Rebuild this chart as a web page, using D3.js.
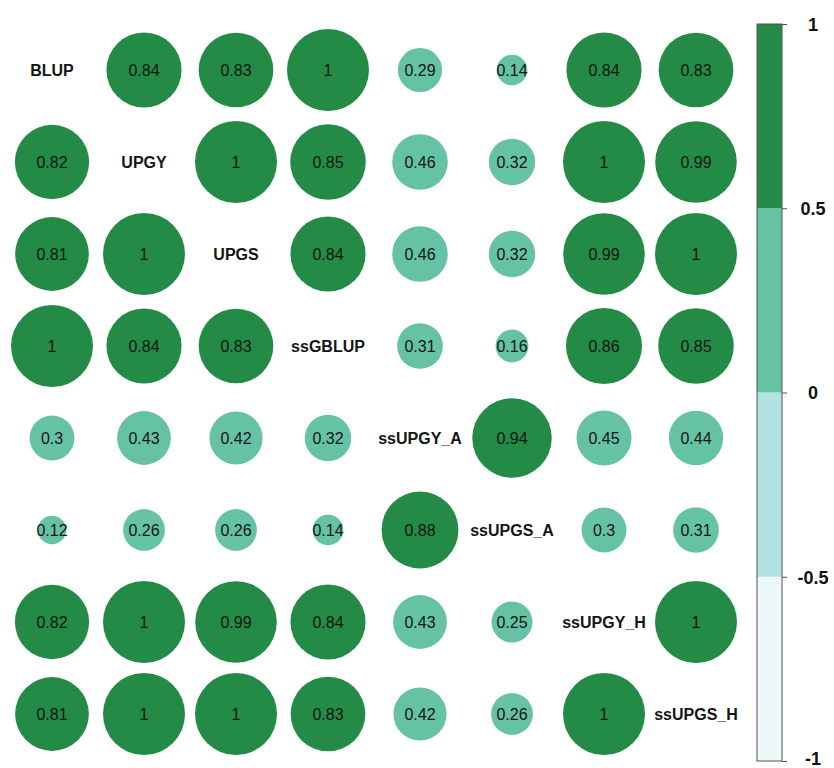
<!DOCTYPE html>
<html>
<head>
<meta charset="utf-8">
<script src="https://cdn.jsdelivr.net/npm/d3@7"></script>
<style>
  body { margin: 0; background: #fff; }
  svg { display: block; font-family: "Liberation Sans", Arial, sans-serif; }
</style>
</head>
<body>
<script>
// Data

var names = ['BLUP', 'UPGY', 'UPGS', 'ssGBLUP', 'ssUPGY_A', 'ssUPGS_A', 'ssUPGY_H', 'ssUPGS_H'];

// correlation matrix, null on the diagonal (label goes there)
var corr = [
    [null, 0.84, 0.83, 1,    0.29, 0.14, 0.84, 0.83],
    [0.82, null, 1,    0.85, 0.46, 0.32, 1,    0.99],
    [0.81, 1,    null, 0.84, 0.46, 0.32, 0.99, 1   ],
    [1,    0.84, 0.83, null, 0.31, 0.16, 0.86, 0.85],
    [0.3,  0.43, 0.42, 0.32, null, 0.94, 0.45, 0.44],
    [0.12, 0.26, 0.26, 0.14, 0.88, null, 0.3,  0.31],
    [0.82, 1,    0.99, 0.84, 0.43, 0.25, null, 1   ],
    [0.81, 1,    1,    0.83, 0.42, 0.26, 1,    null]
];

var legendBreaks = [-1, -0.5, 0, 0.5, 1];
var legendTicks = ['-1', '-0.5', '0', '0.5', '1'];
var legendColors = ['#edf8fb', '#b2e2e2', '#66c2a4', '#238b45'];

// Layout

var W = 834, H = 768;
var gridX0 = 6, gridY0 = 24, cell = 92;
var maxR = 41;

var svg = d3.select('body').append('svg')
    .attr('width', W)
    .attr('height', H);

var x = d3.scaleBand().domain(d3.range(names.length))
    .range([gridX0, gridX0 + cell * names.length]);
var y = d3.scaleBand().domain(d3.range(names.length))
    .range([gridY0, gridY0 + cell * names.length]);

// area of circle is proportional to |r|
var radius = d3.scaleSqrt().domain([0, 1]).range([0, maxR]);
var color = d3.scaleThreshold()
    .domain(legendBreaks.slice(1, -1))
    .range(legendColors);

// flatten matrix into cells
var cells = [];
corr.forEach(function (row, i) {
    row.forEach(function (v, j) {
        cells.push({ row: i, col: j, v: v });
    });
});

var g = svg.append('g');

var cellG = g.selectAll('g.cell').data(cells)
    .enter().append('g')
    .attr('class', 'cell')
    .attr('transform', function (d) {
        return 'translate(' + (x(d.col) + cell / 2) + ',' + (y(d.row) + cell / 2) + ')';
    });

cellG.filter(function (d) { return d.v !== null; })
    .append('circle')
    .attr('r', function (d) { return radius(Math.abs(d.v)); })
    .attr('fill', function (d) { return color(d.v); });

cellG.append('text')
    .attr('text-anchor', 'middle')
    .attr('dy', '0.36em')
    .style('font-size', '16px')
    .style('font-weight', function (d) { return d.v === null ? 'bold' : 'normal'; })
    .attr('fill', '#151515')
    .text(function (d) { return d.v === null ? names[d.row] : d3.format('')(d.v); });

// Colour legend

var barX = 757, barW = 25;
var ly = d3.scaleLinear().domain([-1, 1]).range([761, 24]);

var legend = svg.append('g');

legend.selectAll('rect.bin').data(legendColors)
    .enter().append('rect')
    .attr('class', 'bin')
    .attr('x', barX)
    .attr('width', barW)
    .attr('y', function (d, i) { return ly(legendBreaks[i + 1]); })
    .attr('height', function (d, i) { return ly(legendBreaks[i]) - ly(legendBreaks[i + 1]); })
    .attr('fill', function (d) { return d; });

legend.append('rect')
    .attr('x', barX)
    .attr('y', ly(1))
    .attr('width', barW)
    .attr('height', ly(-1) - ly(1))
    .attr('fill', 'none')
    .attr('stroke', '#555')
    .attr('stroke-width', 1);

var axis = d3.axisRight(ly)
    .tickValues(legendBreaks)
    .tickFormat(function (d, i) { return legendTicks[i]; })
    .tickSize(5)
    .tickPadding(26);

legend.append('g')
    .attr('transform', 'translate(' + (barX + barW) + ',0)')
    .call(axis)
    .call(function (a) {
        a.select('.domain').remove();
        a.selectAll('line').attr('stroke', '#555');
        a.selectAll('text')
            .attr('text-anchor', 'middle')
            .attr('dy', function (d) { return d === -1 ? '0.2em' : '0.36em'; }) // keep -1 inside the page
            .style('font-size', '18px')
            .style('font-weight', 'bold')
            .style('font-family', '"Liberation Sans", Arial, sans-serif')
            .attr('fill', '#111');
    });
</script>
</body>
</html>
